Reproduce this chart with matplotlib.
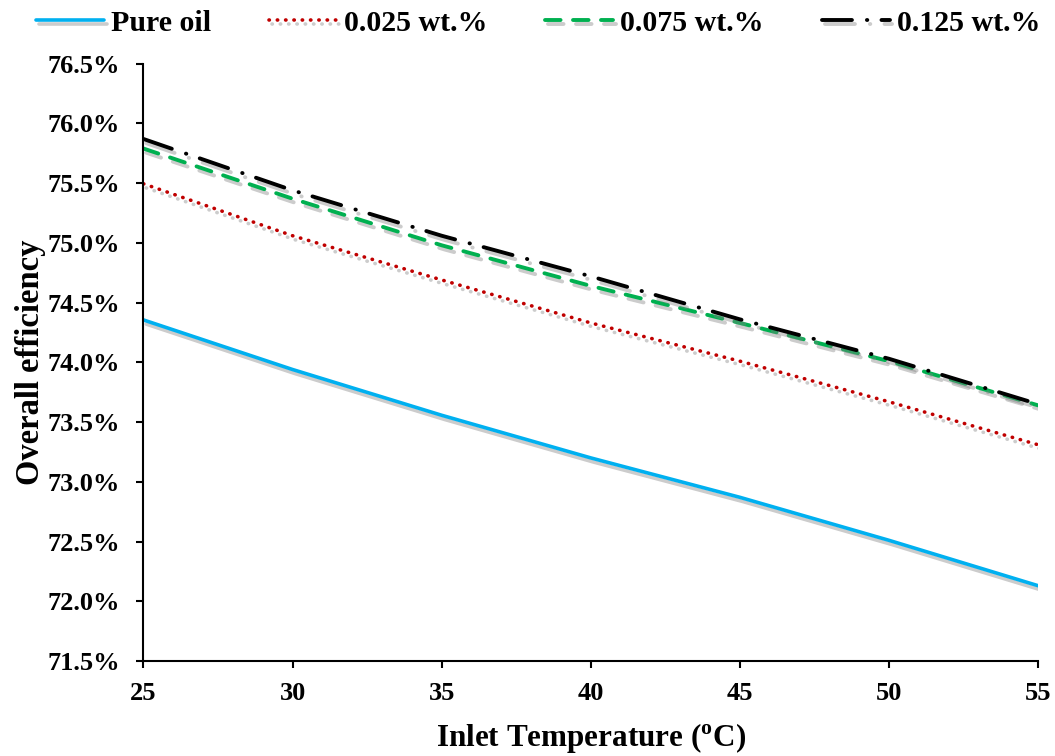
import matplotlib
matplotlib.use("Agg")
import matplotlib.pyplot as plt
import matplotlib.patheffects as pe
from matplotlib.ticker import PercentFormatter, MultipleLocator

temps = [25, 30, 35, 40, 45, 50, 55]
pure_oil = [74.355, 73.94, 73.557, 73.20, 72.87, 72.51, 72.13]
wt_0025 = [75.495, 75.06, 74.69, 74.33, 74.01, 73.67, 73.31]
wt_0075 = [75.79, 75.37, 74.98, 74.64, 74.33, 74.01, 73.64]
wt_0125 = [75.87, 75.44, 75.06, 74.72, 74.36, 74.03, 73.65]
labels = ["Pure oil", "0.025 wt.%", "0.075 wt.%", "0.125 wt.%"]

plt.rcParams['font.family'] = ['Liberation Serif', 'DejaVu Serif']
plt.rcParams['font.weight'] = 'bold'
plt.rcParams['mathtext.fontset'] = 'custom'
plt.rcParams['mathtext.rm'] = 'Liberation Serif:bold'
plt.rcParams['mathtext.bf'] = 'Liberation Serif:bold'

fig = plt.figure(figsize=(10.55, 7.56), dpi=100)
ax = fig.add_axes([0.136, 0.1257, 0.848, 0.79])

shadow = [pe.SimpleLineShadow(offset=(2, -3), shadow_color='gray', alpha=0.4), pe.Normal()]

ax.plot(temps, pure_oil, color='#00B0F0', lw=2.6, solid_capstyle='round', label=labels[0], path_effects=shadow)
ax.plot(temps, wt_0025, color='#C00000', lw=2.6, linestyle=(0, (0.1, 2.2)), dash_capstyle='round', label=labels[1], path_effects=shadow)
ax.plot(temps, wt_0075, color='#00B050', lw=2.8, linestyle=(0, (4, 3.2)), dash_capstyle='round', label=labels[2], path_effects=shadow)
ax.plot(temps, wt_0125, color='black', lw=2.8, linestyle=(0, (7.7, 3.85, 0.1, 3.65)), dash_capstyle='round', label=labels[3], path_effects=shadow)

ax.set_xlim(25, 55)
ax.set_ylim(71.5, 76.5)
ax.xaxis.set_major_locator(MultipleLocator(5))
ax.yaxis.set_major_locator(MultipleLocator(0.5))
ax.yaxis.set_major_formatter(PercentFormatter(100, decimals=1))

for s in ['top', 'right']:
    ax.spines[s].set_visible(False)
for s in ['left', 'bottom']:
    ax.spines[s].set_linewidth(1.5)
ax.tick_params(axis='both', direction='out', length=5, width=1.5, labelsize=19)
ax.tick_params(axis='y', pad=12)
ax.tick_params(axis='x', pad=10)
for lab in ax.get_xticklabels() + ax.get_yticklabels():
    lab.set_fontweight('bold')

ax.set_xlabel(r"Inlet Temperature ($^{\mathregular{o}}$C)", fontsize=22.4, fontweight='bold', labelpad=12)
ax.set_ylabel("Overall efficiency", fontsize=23.5, fontweight='bold', labelpad=1)

fig.legend(loc='upper center', bbox_to_anchor=(0.51, 0.993), ncol=4, frameon=False,
           handlelength=2.27, handletextpad=0.23, columnspacing=1.95,
           borderpad=0.15, borderaxespad=0.0,
           prop={'weight': 'bold', 'size': 21.5})

fig.savefig("out.png", dpi=100)
